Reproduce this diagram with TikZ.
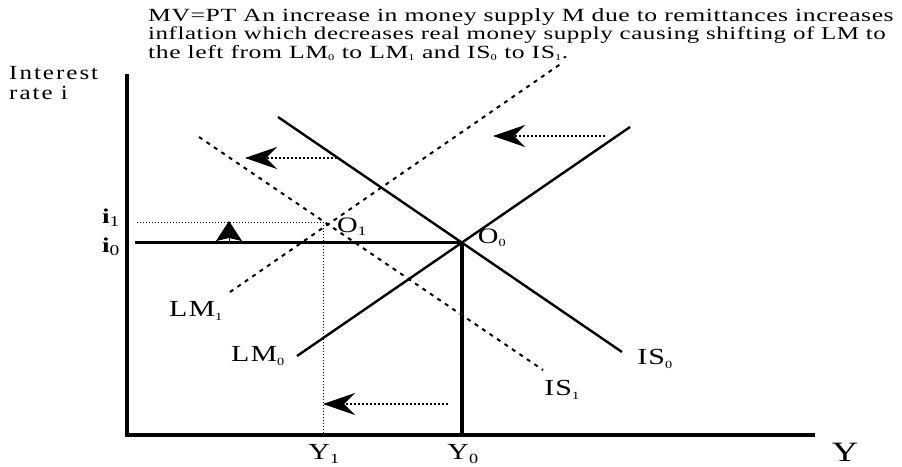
\documentclass[tikz,border=0pt]{standalone}
\usepackage{fontspec}
\setmainfont{Liberation Serif}
\newfontfamily\widefont[FakeStretch=1.3, LetterSpace=5]{Liberation Serif}
\newfontfamily\notefont[FakeStretch=1.38, LetterSpace=3]{Liberation Serif}
\newfontfamily\axisfont[FakeStretch=1.25, LetterSpace=10]{Liberation Serif}
\newcommand{\lsub}[2][11]{\textsubscript{\fontsize{#1}{#1}\selectfont #2}}
\usetikzlibrary{arrows.meta,positioning}

\tikzset{
	axisline/.style={line width=4pt},
	curve/.style={line width=2.4pt},
	shifted/.style={line width=2pt, dash pattern=on 4pt off 5pt},
	guide/.style={line width=1pt, dash pattern=on 1pt off 2pt},
	shiftarrow/.style={line width=2pt, dash pattern=on 2pt off 2pt, -{Stealth[length=32pt,width=22pt,inset=11pt]}},
	lbl/.style={font=\fontsize{23}{23}\selectfont\widefont, inner sep=0pt},
	note/.style={font=\fontsize{18.6}{18}\selectfont\notefont, inner sep=0pt, anchor=west},
}

\begin{document}
\begin{tikzpicture}[x=1pt, y=-1pt]
		\useasboundingbox (0,0) rectangle (902,466);
		
		% Caption
		\node[note] (line1) at (148,17) {MV=PT An increase in money supply M due to remittances increases};
		\node[note, font=\fontsize{18.1}{18}\selectfont\notefont] (line2) at (148,35) {inflation which decreases real money supply causing shifting of LM to};
		\node[note] (line3) at (148,53) {the left from LM\lsub[9]{0} to LM\lsub[9]{1} and IS\lsub[9]{0} to IS\lsub[9]{1}.};
		
		% Axes
		\coordinate (orig) at (127,435);
		\coordinate (ytop) at (127,74);
		\coordinate (xend) at (815,435);
		\draw[axisline] (ytop) -- (orig) -- (xend);
		\node[note, font=\fontsize{20}{20}\selectfont\axisfont, anchor=north west, align=left] (ilabel) at (9,66) {Interest\\rate i};
		\node[lbl, font=\fontsize{28}{28}\selectfont\widefont, anchor=base] (ylabel) at (845,461) {Y};
		
		% Equilibria
		\coordinate (O0) at (462,242);
		\coordinate (O1) at (323,223);
		
		% Original curves
		\coordinate (LM0a) at (297,356);
		\coordinate (LM0b) at (630,127);
		\coordinate (IS0a) at (278,117);
		\coordinate (IS0b) at (622,352);
		\draw[curve] (LM0a) -- (LM0b);
		\draw[curve] (IS0a) -- (IS0b);
		\node[lbl] (lm0) at (258,356) {LM\lsub{0}};
		\node[lbl] (is0) at (655,359) {IS\lsub{0}};
		
		% Shifted curves
		\coordinate (LM1a) at (230,292);
		\coordinate (LM1b) at (562,63);
		\coordinate (IS1a) at (199,137);
		\coordinate (IS1b) at (543,370);
		\draw[shifted] (LM1a) -- (LM1b);
		\draw[shifted] (IS1a) -- (IS1b);
		\node[lbl] (lm1) at (196,311) {LM\lsub{1}};
		\node[lbl] (is1) at (562,390) {IS\lsub{1}};
		
		% Interest rate and output levels
		\coordinate (i0start) at (135,242);
		\coordinate (i1start) at (137,222);
		\coordinate (Y0) at (O0 |- orig);
		\coordinate (Y1) at (O1 |- orig);
		\draw[line width=3pt] (i0start) -- (O0);
		\draw[line width=4pt] (O0) -- (Y0);
		\draw[guide] (i1start) -- (O1 |- i1start) -- (Y1);
		\node[lbl, font=\fontsize{21}{21}\selectfont\widefont\bfseries] (i1) at (111,218) {i\lsub[15]{\mdseries 1}};
		\node[lbl, font=\fontsize{21}{21}\selectfont\widefont\bfseries] (i0) at (111,247) {i\lsub[15]{\mdseries 0}};
		\node[lbl] (y1) at (324,454) {Y\lsub[14]{1}};
		\node[lbl] (y0) at (463,454) {Y\lsub[14]{0}};
		\node[lbl, font=\fontsize{22}{22}\selectfont\widefont] (o0) at (492,238) {O\lsub{0}};
		\node[lbl, font=\fontsize{22}{22}\selectfont\widefont] (o1) at (352,227) {O\lsub[13]{1}};
		
		% Shift arrows
		\coordinate (aIStail) at (337,158);
		\coordinate (aIStip) at (245,158);
		\coordinate (aLMtail) at (605,136);
		\coordinate (aLMtip) at (493,136);
		\coordinate (aYtail) at (448,404);
		\coordinate (aYtip) at (323,404);
		\draw[shiftarrow] (aIStail) -- (aIStip);
		\draw[shiftarrow] (aLMtail) -- (aLMtip);
		\draw[shiftarrow] (aYtail) -- (aYtip);
		\coordinate (aitail) at (229,241);
		\coordinate (aitip) at (229,221);
		\draw[line width=1pt, -{Stealth[length=20pt,width=26pt,inset=3pt]}] (aitail) -- (aitip);
	\end{tikzpicture}
\end{document}
